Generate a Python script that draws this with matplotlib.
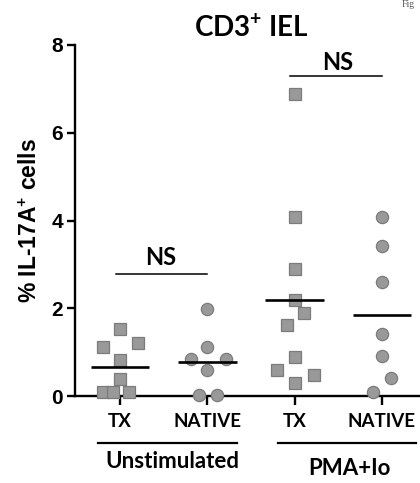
import numpy as np
import matplotlib
matplotlib.use("Agg")
import matplotlib.pyplot as plt

# % IL-17A+ among CD3+ IEL, per animal
tx_unstim = [1.52, 1.20, 1.11, 0.82, 0.39, 0.08, 0.08, 0.08]
native_unstim = [1.98, 1.11, 0.84, 0.84, 0.59, 0.02, 0.02]
tx_pma = [6.88, 4.07, 2.90, 2.19, 1.89, 1.61, 0.90, 0.59, 0.49, 0.29]
native_pma = [4.07, 3.42, 2.59, 1.41, 0.91, 0.40, 0.08]

groups = [tx_unstim, native_unstim, tx_pma, native_pma]
tick_labels = ["TX", "NATIVE", "TX", "NATIVE"]
conditions = ["Unstimulated", "PMA+Io"]
sig_labels = ["NS", "NS"]

plt.rcParams["mathtext.fontset"] = "custom"
plt.rcParams["mathtext.rm"] = "Lato:bold"
plt.rcParams["mathtext.bf"] = "Lato:bold"

CAL = dict(family="Lato", weight="bold")
ARI = dict(family="Liberation Sans", weight="bold")

# horizontal spread of overlapping points (category units)
spread = [
    [0.0, 0.21, -0.2, 0.0, 0.0, -0.2, -0.08, 0.1],
    [0.0, 0.0, -0.19, 0.22, 0.0, -0.09, 0.11],
    [0.0, 0.0, 0.0, 0.0, 0.11, -0.09, 0.0, -0.2, 0.22, 0.0],
    [0.0, 0.0, 0.0, 0.0, 0.0, 0.1, -0.1],
]
markers = ["s", "o", "s", "o"]

fig = plt.figure(figsize=(4.2, 4.83), dpi=100)
ax = fig.add_axes([75 / 420, 87 / 483, 345 / 420, 351 / 483])

for i, (vals, dx, mk) in enumerate(zip(groups, spread, markers)):
    xs = i + np.array(dx)
    ax.plot(xs, vals, linestyle="none", marker=mk, markersize=8.8,
            markerfacecolor="#999999", markeredgecolor="#7b7b7b",
            markeredgewidth=0.9, clip_on=False, zorder=3)
    m = np.mean(vals)
    ax.plot([i - 0.335, i + 0.335], [m, m], color="black", lw=1.9,
            solid_capstyle="butt", clip_on=False, zorder=4)

ax.set_xlim(-0.515, 3.436)
ax.set_ylim(0, 8)
ax.set_yticks([0, 2, 4, 6, 8])
ax.set_xticks(range(4))
ax.set_xticklabels(tick_labels, fontsize=13.5, **CAL)
for lbl in ax.get_yticklabels():
    lbl.set_fontsize(15)
    lbl.set_fontfamily("Liberation Sans")
    lbl.set_fontweight("bold")

for side in ("top", "right"):
    ax.spines[side].set_visible(False)
for side in ("left", "bottom"):
    ax.spines[side].set_linewidth(1.7)
ax.tick_params(axis="y", length=5.8, width=1.7, pad=3)
ax.tick_params(axis="x", length=6.7, width=1.7, pad=5.5)

ax.text(-0.13, 0.5, "% IL-17A$^{+}$ cells", transform=ax.transAxes,
        rotation=90, ha="center", va="center", fontsize=16.5, **ARI)

# significance brackets
ax.plot([-0.046, 1.0], [2.78, 2.78], color="black", lw=1.1, clip_on=False)
ax.text(0.47, 2.99, sig_labels[0], ha="center", va="baseline", fontsize=17, **CAL)
ax.plot([1.95, 3.0], [7.3, 7.3], color="black", lw=1.1, clip_on=False)
ax.text(2.49, 7.43, sig_labels[1], ha="center", va="baseline", fontsize=17, **CAL)

# condition labels under the category ticks
xt = ax.get_xaxis_transform()
ax.plot([-0.252, 1.34], [-0.133, -0.133], color="black", lw=1.6,
        transform=xt, clip_on=False)
ax.plot([1.81, 3.39], [-0.133, -0.133], color="black", lw=1.6,
        transform=xt, clip_on=False)
ax.text(0.596, -0.205, conditions[0], transform=xt, ha="center",
        va="baseline", fontsize=16, **CAL)
ax.text(2.63, -0.225, conditions[1], transform=xt, ha="center",
        va="baseline", fontsize=16, **CAL)

fig.text(251 / 420, 1 - 36 / 483, "CD3$^{+}$ IEL", ha="center",
         va="baseline", fontsize=20, **CAL)
fig.text(402 / 420, 1.0, "Fig", ha="left", va="top",
         fontsize=7, family="Liberation Serif", color="#555555")

fig.savefig("out.png", dpi=100)
